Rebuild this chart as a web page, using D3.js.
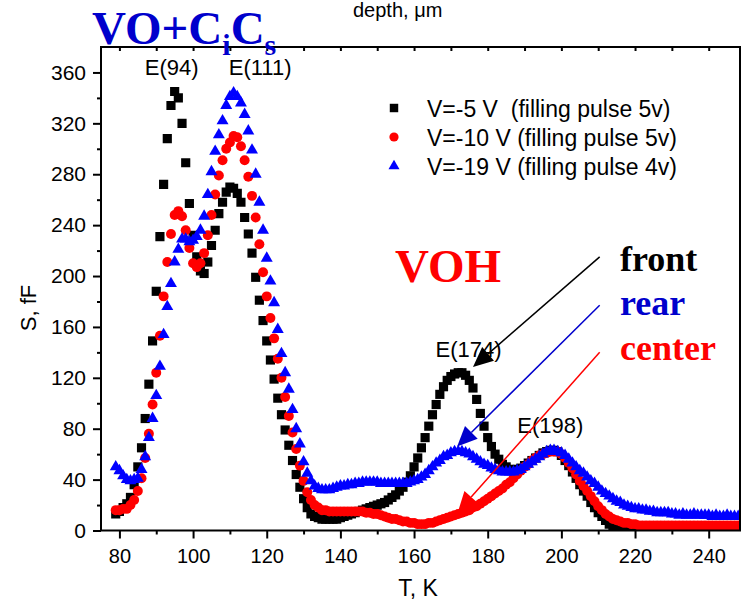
<!DOCTYPE html>
<html>
<head>
<meta charset="utf-8">
<script src="https://cdn.jsdelivr.net/npm/d3@7/dist/d3.min.js"></script>
<style>
  body { margin: 0; background: #fff; }
  svg { display: block; }
  text { font-family: "Liberation Sans", Arial, sans-serif; fill: #000; }
  .serif { font-family: "Liberation Serif", "Times New Roman", serif; font-weight: bold; }
</style>
</head>
<body>
<script>
// temperature grid, 1 K steps
var temps = d3.range(79, 251);

// V=-5 V (front)
var sFront = [
  13, 15, 18, 21, 26, 36, 50, 65, 88, 115, 149, 188, 231, 272, 308, 334, 345, 340, 320, 289, 257,
  232, 215, 204, 202, 211, 224, 236, 249, 258, 266, 270, 269, 265, 258, 246, 233, 218, 199, 181, 165,
  149, 134, 119, 104, 91, 79, 67, 55, 44, 34, 25, 18, 13, 11, 10, 9, 9, 9, 9, 9,
  10, 11, 12, 13, 14, 15, 16, 17, 18, 19, 20, 21, 22, 24, 26, 28, 31, 34, 38, 43,
  50, 57, 65, 73, 82, 91, 99, 107, 113, 118, 121, 123, 124, 124, 122, 118, 112, 103, 92, 82,
  73, 66, 60, 56, 52, 50, 48, 48, 48, 49, 51, 53, 55, 57, 59, 61, 62, 63, 63, 62,
  59, 55, 51, 46, 41, 36, 31, 27, 22, 18, 14, 11, 8, 5, 3, 1,
  0, 0, 0, 0, 0, 0, 0, 0, 0, 0, 0, 0, 0, 0, 0, 0, 0, 0, 0, 0,
  0, 0, 0, 0, 0, 0, 0, 0, 0, 0, 0, 0, 0, 0, 0
];

// V=-10 V (center)
var sCenter = [
  16, 16, 17, 17, 20, 24, 31, 41, 57, 76, 99, 124, 153, 184, 211, 233, 248, 251, 247, 236, 222,
  210, 207, 210, 218, 232, 248, 264, 279, 291, 300, 305, 310, 309, 302, 291, 278, 263, 246, 225, 203,
  184, 167, 151, 135, 120, 105, 90, 77, 64, 51, 39, 30, 24, 20, 18, 16, 16, 15, 15, 15,
  15, 15, 15, 15, 15, 15, 15, 14, 14, 13, 13, 12, 11, 10, 9, 9, 8, 7, 7, 6,
  6, 5, 5, 5, 6, 6, 7, 8, 9, 10, 11, 12, 13, 14, 15, 16, 18, 19, 21, 23,
  25, 27, 29, 31, 33, 36, 38, 41, 44, 47, 50, 52, 55, 57, 59, 60, 61, 62, 62, 62,
  60, 57, 53, 49, 44, 39, 35, 31, 27, 23, 19, 16, 13, 11, 9, 8, 7, 6, 6, 5,
  5, 4, 4, 4, 4, 4, 4, 4, 4, 4, 4, 4, 4, 4, 4, 4, 4, 4, 4, 4,
  4, 4, 4, 4, 4, 4, 4, 4, 4, 4, 4
];

// V=-19 V (rear)
var sRear = [
  50, 47, 43, 40, 39, 40, 41, 48, 58, 73, 88, 106, 129, 154, 176, 194, 211, 221, 229, 229, 227,
  228, 231, 236, 247, 264, 282, 298, 311, 322, 334, 341, 344, 341, 336, 327, 314, 299, 280, 258, 236,
  214, 196, 179, 158, 139, 124, 111, 95, 80, 68, 54, 45, 39, 35, 33, 32, 32, 32, 33, 34,
  35, 35, 36, 36, 37, 37, 38, 38, 38, 38, 38, 37, 37, 37, 37, 37, 37, 37, 37, 38,
  39, 40, 42, 44, 47, 50, 53, 55, 58, 59, 61, 62, 62, 62, 61, 60, 58, 56, 54, 52,
  51, 49, 48, 47, 46, 46, 46, 46, 47, 48, 50, 52, 54, 56, 58, 60, 62, 63, 63, 62,
  61, 59, 56, 53, 50, 47, 45, 42, 39, 37, 34, 31, 29, 27, 25, 23, 22, 20, 19, 18,
  17, 17, 16, 16, 15, 15, 14, 14, 14, 14, 13, 13, 12, 13, 12, 12, 13, 12, 12, 12,
  12, 11, 12, 11, 11, 12, 11, 11, 11, 11, 11
];

var legendLabels = [
  "V=-5 V  (filling pulse 5v)",
  "V=-10 V (filling pulse 5v)",
  "V=-19 V (filling pulse 4v)"
];

var xTicks = [80, 100, 120, 140, 160, 180, 200, 220, 240];
var xMinor = [90, 110, 130, 150, 170, 190, 210, 230];
var yTicks = [0, 40, 80, 120, 160, 200, 240, 280, 320, 360];
var yMinor = [20, 60, 100, 140, 180, 220, 260, 300, 340];

// peak labels, placed in data units
var peakLabels = [
  {text: "E(94)", t: 94.2, s: 358},
  {text: "E(111)", t: 118.2, s: 358},
  {text: "E(174)", t: 174.8, s: 136},
  {text: "E(198)", t: 197.0, s: 77}
];

// arrows from the front/rear/center words to the peaks
var arrows = [
  {color: "#000", t0: 210.4, s0: 215, t1: 176.0, s1: 128.5},
  {color: "#0000cc", t0: 210.4, s0: 177, t1: 171.7, s1: 66},
  {color: "#ff0000", t0: 210.4, s0: 140, t1: 171.9, s1: 14.5}
];

(function() {

var w = 744, h = 600;
var mLeft = 101, mRight = 740, mTop = 47, mBottom = 530.5;

var x = d3.scaleLinear().domain([75, 248.5]).range([mLeft, mRight]);
var y = d3.scaleLinear().domain([0, 380]).range([mBottom, mTop]);

var svg = d3.select("body").append("svg")
    .attr("width", w)
    .attr("height", h);

svg.append("defs").append("clipPath")
    .attr("id", "plot")
  .append("rect")
    .attr("x", mLeft)
    .attr("y", mTop)
    .attr("width", mRight - mLeft)
    .attr("height", mBottom - mTop);

var series = [
  {values: sFront, color: "#000", type: d3.symbolSquare, size: 84},
  {values: sCenter, color: "#ff0000", type: d3.symbolCircle, size: 78},
  {values: sRear, color: "#0000ff", type: d3.symbolTriangle, size: 62}
];

var plot = svg.append("g")
    .attr("clip-path", "url(#plot)");

series.forEach(function(d) {
  var sym = d3.symbol().type(d.type).size(d.size);
  plot.append("g")
      .attr("fill", d.color)
    .selectAll("path")
    .data(d.values)
    .enter().append("path")
      .attr("d", sym)
      .attr("transform", function(v, i) {
        return "translate(" + x(temps[i]) + "," + y(v) + ")";
      });
});

// axes
function styleAxis(size) {
  return function(g) {
    g.select(".domain").remove();
    g.selectAll("line").attr("stroke", "#000").attr("stroke-width", 2);
    g.selectAll("text")
        .style("font-size", size + "px")
        .style("font-family", "'Liberation Sans', Arial, sans-serif")
        .attr("fill", "#000");
  };
}

svg.append("g")
    .attr("transform", "translate(0," + mBottom + ")")
    .call(d3.axisBottom(x).tickValues(xTicks).tickSize(8).tickPadding(10).tickSizeOuter(0))
    .call(styleAxis(20));

svg.append("g")
    .attr("transform", "translate(0," + mBottom + ")")
    .call(d3.axisBottom(x).tickValues(xMinor).tickSize(4).tickFormat("").tickSizeOuter(0))
    .call(styleAxis(20));

svg.append("g")
    .attr("transform", "translate(0," + mTop + ")")
    .call(d3.axisBottom(x).tickValues(xTicks.concat(xMinor)).tickSize(4).tickFormat("").tickSizeOuter(0))
    .call(styleAxis(20));

svg.append("g")
    .attr("transform", "translate(" + mLeft + ",0)")
    .call(d3.axisLeft(y).tickValues(yTicks).tickSize(8).tickPadding(7).tickSizeOuter(0))
    .call(styleAxis(21));

svg.append("g")
    .attr("transform", "translate(" + mLeft + ",0)")
    .call(d3.axisLeft(y).tickValues(yMinor).tickSize(4).tickFormat("").tickSizeOuter(0))
    .call(styleAxis(21));

svg.append("rect")
    .attr("x", mLeft)
    .attr("y", mTop)
    .attr("width", mRight - mLeft)
    .attr("height", mBottom - mTop)
    .attr("fill", "none")
    .attr("stroke", "#000")
    .attr("stroke-width", 2);

// axis titles
svg.append("text")
    .attr("x", 418)
    .attr("y", 596)
    .attr("text-anchor", "middle")
    .style("font-size", "23px")
    .text("T, K");

svg.append("text")
    .attr("transform", "translate(36,308)rotate(-90)")
    .attr("text-anchor", "middle")
    .style("font-size", "22px")
    .text("S, fF");

svg.append("text")
    .attr("x", 353)
    .attr("y", 17)
    .style("font-size", "20px")
    .text("depth, \u03bcm");

// legend
var legend = svg.append("g")
    .attr("transform", "translate(394,108)");

legend.selectAll("path")
    .data(series)
    .enter().append("path")
    .attr("d", function(d) { return d3.symbol().type(d.type).size(d.size * 0.85)(); })
    .attr("fill", function(d) { return d.color; })
    .attr("transform", function(d, i) { return "translate(0," + (i * 29) + ")"; });

legend.selectAll("text")
    .data(legendLabels)
    .enter().append("text")
    .attr("x", 33)
    .attr("y", function(d, i) { return i * 29 + 9; })
    .style("font-size", "23px")
    .style("white-space", "pre")
    .text(function(d) { return d; });

// peak labels
svg.selectAll(".peak")
    .data(peakLabels)
    .enter().append("text")
    .attr("class", "peak")
    .attr("x", function(d) { return x(d.t); })
    .attr("y", function(d) { return y(d.s); })
    .attr("text-anchor", "middle")
    .style("font-size", "22px")
    .text(function(d) { return d.text; });

// arrows
arrows.forEach(function(a) {
  var x0 = x(a.t0), y0 = y(a.s0), x1 = x(a.t1), y1 = y(a.s1);
  var ang = Math.atan2(y1 - y0, x1 - x0),
      len = 20, half = 9,
      bx = x1 - len * Math.cos(ang),
      by = y1 - len * Math.sin(ang),
      px = -Math.sin(ang) * half,
      py = Math.cos(ang) * half;
  svg.append("line")
      .attr("x1", x0).attr("y1", y0)
      .attr("x2", bx).attr("y2", by)
      .attr("stroke", a.color)
      .attr("stroke-width", 1.5);
  svg.append("path")
      .attr("d", "M" + x1 + "," + y1 + "L" + (bx + px) + "," + (by + py) + "L" + (bx - px) + "," + (by - py) + "Z")
      .attr("fill", a.color);
});

// big words
var title = svg.append("text")
    .attr("class", "serif")
    .attr("x", 92)
    .attr("y", 44)
    .style("fill", "#0000cc")
    .style("font-size", "47px");
title.append("tspan").text("VO+C");
title.append("tspan").attr("dy", 11).style("font-size", "30px").text("i");
title.append("tspan").attr("dy", -11).text("C");
title.append("tspan").attr("dy", 11).style("font-size", "30px").text("s");

svg.append("text")
    .attr("class", "serif")
    .attr("x", 395)
    .attr("y", 282)
    .style("fill", "#ff0000")
    .style("font-size", "47px")
    .text("VOH");

var words = [
  {text: "front", color: "#000", y: 271},
  {text: "rear", color: "#0000cc", y: 315},
  {text: "center", color: "#ff0000", y: 360}
];

svg.selectAll(".word")
    .data(words)
    .enter().append("text")
    .attr("class", "serif word")
    .attr("x", 620)
    .attr("y", function(d) { return d.y; })
    .style("fill", function(d) { return d.color; })
    .style("font-size", "36px")
    .text(function(d) { return d.text; });

})();
</script>
</body>
</html>
